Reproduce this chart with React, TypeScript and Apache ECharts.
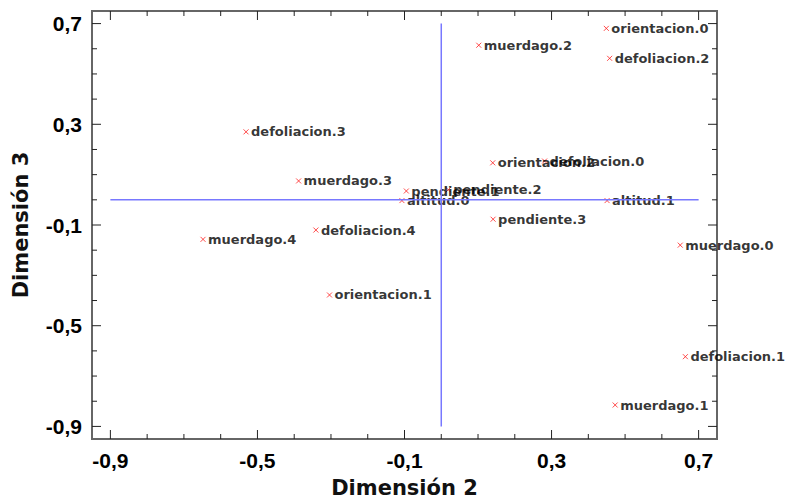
import React, { useEffect, useRef } from "react";
import * as echarts from "echarts";

const POINT_NAMES = [
  "orientacion.0",
  "defoliacion.2",
  "muerdago.2",
  "defoliacion.3",
  "muerdago.3",
  "pendiente.1",
  "pendiente.2",
  "altitud.0",
  "orientacion.2",
  "defoliacion.0",
  "altitud.1",
  "pendiente.3",
  "defoliacion.4",
  "muerdago.4",
  "muerdago.0",
  "orientacion.1",
  "defoliacion.1",
  "muerdago.1",
];
const DIM2 = [0.449, 0.458, 0.102, -0.531, -0.388, -0.095, 0.019, -0.107, 0.14, 0.281, 0.451, 0.141, -0.341, -0.648, 0.65, -0.304, 0.664, 0.473];
const DIM3 = [0.681, 0.562, 0.614, 0.27, 0.075, 0.035, 0.04, -0.003, 0.147, 0.154, -0.003, -0.077, -0.12, -0.157, -0.18, -0.378, -0.623, -0.815];

const MAJOR_TICKS = [-0.9, -0.5, -0.1, 0.3, 0.7];
const MINOR_TICKS = [-0.9, -0.8, -0.7, -0.6, -0.5, -0.4, -0.3, -0.2, -0.1, 0, 0.1, 0.2, 0.3, 0.4, 0.5, 0.6, 0.7];
const AXIS_MIN = -0.95;
const AXIS_MAX = 0.75;
const REF_LINE_H = [[-0.9, 0], [0.7, 0]];
const REF_LINE_V = [[0, -0.9], [0, 0.7]];

const MAJOR_LEN = 9;
const MINOR_LEN = 5;

const fmt = (v: number) => String(Math.round(v * 10) / 10).replace(".", ",");

const TICK_COLOR = "#222";

function makeAxis(dim: "x" | "y") {
  return {
    type: "value",
    min: AXIS_MIN,
    max: AXIS_MAX,
    position: dim === "x" ? "bottom" : "left",
    axisLine: { show: false, onZero: false },
    splitLine: { show: false },
    axisTick: { show: false },
    axisLabel: {
      show: true,
      customValues: MAJOR_TICKS,
      formatter: fmt,
      fontFamily: "Liberation Sans, Arial, sans-serif",
      fontWeight: "bold",
      fontSize: 21,
      color: "#000",
      margin: dim === "x" ? 11 : 10,
    },
    name: dim === "x" ? "Dimensión 2" : "Dimensión 3",
    nameLocation: "middle",
    nameGap: dim === "x" ? 38 : 61,
    nameTextStyle: {
      fontFamily: "DejaVu Sans, sans-serif",
      fontWeight: "bold",
      fontSize: 21,
      color: "#111",
    },
  };
}

const tickData = MINOR_TICKS.map((v) => [v, MAJOR_TICKS.includes(v) ? MAJOR_LEN : MINOR_LEN]);

function tickSeries(dim: "x" | "y") {
  return {
    type: "custom",
    silent: true,
    clip: false,
    z: 5,
    data: tickData,
    encode: { x: dim === "x" ? 0 : 1, y: dim === "x" ? 1 : 0 },
    renderItem: (_params: any, api: any) => {
      const v = api.value(0);
      const len = api.value(1);
      const style = { stroke: TICK_COLOR, lineWidth: 1 };
      if (dim === "x") {
        const b = api.coord([v, AXIS_MIN]);
        const t = api.coord([v, AXIS_MAX]);
        return {
          type: "group",
          children: [
            { type: "line", shape: { x1: b[0], y1: b[1], x2: b[0], y2: b[1] - len }, style },
            { type: "line", shape: { x1: t[0], y1: t[1], x2: t[0], y2: t[1] + len }, style },
          ],
        };
      }
      const l = api.coord([AXIS_MIN, v]);
      const r = api.coord([AXIS_MAX, v]);
      return {
        type: "group",
        children: [
          { type: "line", shape: { x1: l[0], y1: l[1], x2: l[0] + len, y2: l[1] }, style },
          { type: "line", shape: { x1: r[0], y1: r[1], x2: r[0] - len, y2: r[1] }, style },
        ],
      };
    },
  };
}

export default function App() {
  const ref = useRef<HTMLDivElement>(null);
  useEffect(() => {
    document.body.style.margin = "0";
    if (!ref.current) return;
    const chart = echarts.init(ref.current, undefined, { renderer: "svg" });
    const points = POINT_NAMES.map((n, i) => ({ name: n, value: [DIM2[i], DIM3[i]] }));
    chart.setOption({
      animation: false,
      backgroundColor: "#fff",
      grid: {
        left: 92,
        right: 68,
        top: 11,
        bottom: 62,
        containLabel: false,
        outerBoundsMode: "none",
        show: true,
        borderColor: "#666",
        borderWidth: 2,
        backgroundColor: "transparent",
      },
      xAxis: makeAxis("x"),
      yAxis: makeAxis("y"),
      series: [
        tickSeries("x"),
        tickSeries("y"),
        {
          type: "line",
          data: REF_LINE_H,
          symbol: "none",
          lineStyle: { color: "#7878ff", width: 1.5 },
          silent: true,
        },
        {
          type: "line",
          data: REF_LINE_V,
          symbol: "none",
          lineStyle: { color: "#7878ff", width: 1.5 },
          silent: true,
        },
        {
          type: "scatter",
          data: points,
          symbol: "path://M0,0L10,10M10,0L0,10",
          symbolSize: 5,
          itemStyle: { color: "none", borderColor: "#ff2020", borderWidth: 1 },
          label: {
            show: true,
            position: "right",
            distance: 0,
            formatter: (p: any) => p.name,
            fontFamily: "DejaVu Sans, sans-serif",
            fontWeight: "bold",
            fontSize: 13,
            color: "#000",
          },
          labelLayout: { hideOverlap: false },
        },
      ],
    });
    return () => chart.dispose();
  }, []);
  return <div ref={ref} style={{ width: 785, height: 501 }} />;
}
